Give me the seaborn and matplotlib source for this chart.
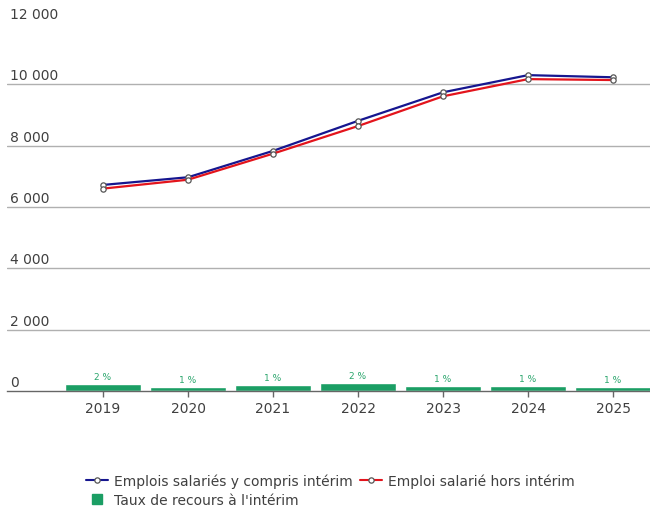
import matplotlib
matplotlib.use("Agg")
import matplotlib.pyplot as plt
import matplotlib.transforms as mtransforms
from matplotlib.lines import Line2D
import seaborn as sns
import pandas as pd

# Data
years = ["2019", "2020", "2021", "2022", "2023", "2024", "2025"]
emploi_avec_interim = [6720, 6970, 7830, 8810, 9740, 10300, 10230]
emploi_hors_interim = [6600, 6890, 7740, 8640, 9610, 10170, 10140]
taux_interim = [1.7, 1.1, 1.45, 2.0, 1.4, 1.2, 1.1]
y_ticks = [0, 2000, 4000, 6000, 8000, 10000, 12000]

lbl_avec = "Emplois salariés y compris intérim"
lbl_hors = "Emploi salarié hors intérim"
lbl_taux = "Taux de recours à l'intérim"

df = pd.DataFrame({
    "annee": years,
    "avec": emploi_avec_interim,
    "hors": emploi_hors_interim,
    "taux": taux_interim,
})

sns.set_theme(style="white")
plt.rcParams["font.family"] = ["DejaVu Sans"]

BLUE = "#16168f"
RED = "#e3141c"
GREEN = "#1b9e64"
GREEN_TXT = "#2aa56c"
TXT = "#404040"

fig = plt.figure(figsize=(6.5, 5.1), dpi=100)
ax = fig.add_axes([7 / 650, 1 - 392 / 510, 643 / 650, 368 / 510])
ax2 = ax.twinx()

# Interim rate bars on the secondary axis
sns.barplot(data=df, x="annee", y="taux", ax=ax2, color=GREEN, width=0.9,
            saturation=1, zorder=2)
ax2.set_ylim(0, 95)
for i, v in enumerate(taux_interim):
    ax2.annotate(f"{v:.0f} %", (i, v), xytext=(0, 2.2), textcoords="offset points",
                 ha="center", va="bottom", fontsize=6.5, color=GREEN_TXT)

# Employment lines on the main axis
marker_kw = dict(marker="o", markersize=3.8, markerfacecolor="white",
                 markeredgecolor="#555555", markeredgewidth=0.9)
sns.lineplot(data=df, x="annee", y="avec", ax=ax, color=BLUE, lw=1.6,
             sort=False, zorder=4, **marker_kw)
sns.lineplot(data=df, x="annee", y="hors", ax=ax, color=RED, lw=1.6,
             sort=False, zorder=4, **marker_kw)

ax.set_xlim(-1.13, 6.435)
ax.set_ylim(0, 12000)
ax.set_yticks(y_ticks)
ax.set_yticklabels([])
ax.tick_params(axis="y", length=0)
for t in y_ticks[1:-1]:
    ax.axhline(t, color="#b0b0b0", lw=1, zorder=1)

# Value labels sit above their gridlines at the left edge
trans = mtransforms.blended_transform_factory(ax.transAxes, ax.transData)
for t in y_ticks:
    ax.annotate(f"{t:,}".replace(",", " "), (0, t), xycoords=trans,
                xytext=(2.5, 1.4), textcoords="offset points",
                ha="left", va="bottom", fontsize=10, color=TXT)

ax.set_xlabel("")
ax.set_ylabel("")
ax2.set_ylabel("")
ax2.set_yticks([])
ax.tick_params(axis="x", length=4, width=1, color="#666666", colors=TXT,
               labelsize=10, pad=3, direction="out", bottom=True)
for a in (ax, ax2):
    for s in ("top", "right", "left", "bottom"):
        a.spines[s].set_visible(False)
ax.spines["bottom"].set_visible(True)
ax.spines["bottom"].set_color("#666666")
ax.spines["bottom"].set_linewidth(1)
ax.set_zorder(ax2.get_zorder() + 1)
ax.patch.set_visible(False)

handles = [
    Line2D([], [], color=BLUE, lw=1.5, **marker_kw),
    Line2D([], [], color=GREEN, lw=0, marker="s", markersize=6.5),
    Line2D([], [], color=RED, lw=1.5, **marker_kw),
]
labels = [lbl_avec, lbl_taux, lbl_hors]
fig.legend(handles, labels, ncol=2, loc="upper left",
           bbox_to_anchor=(80 / 650, 1 - 469 / 510), frameon=False,
           fontsize=10, labelcolor=TXT, handlelength=1.6, handletextpad=0.45,
           columnspacing=0.5, labelspacing=0.36, borderaxespad=0,
           handleheight=0.7)

fig.savefig("out.png", dpi=100)
